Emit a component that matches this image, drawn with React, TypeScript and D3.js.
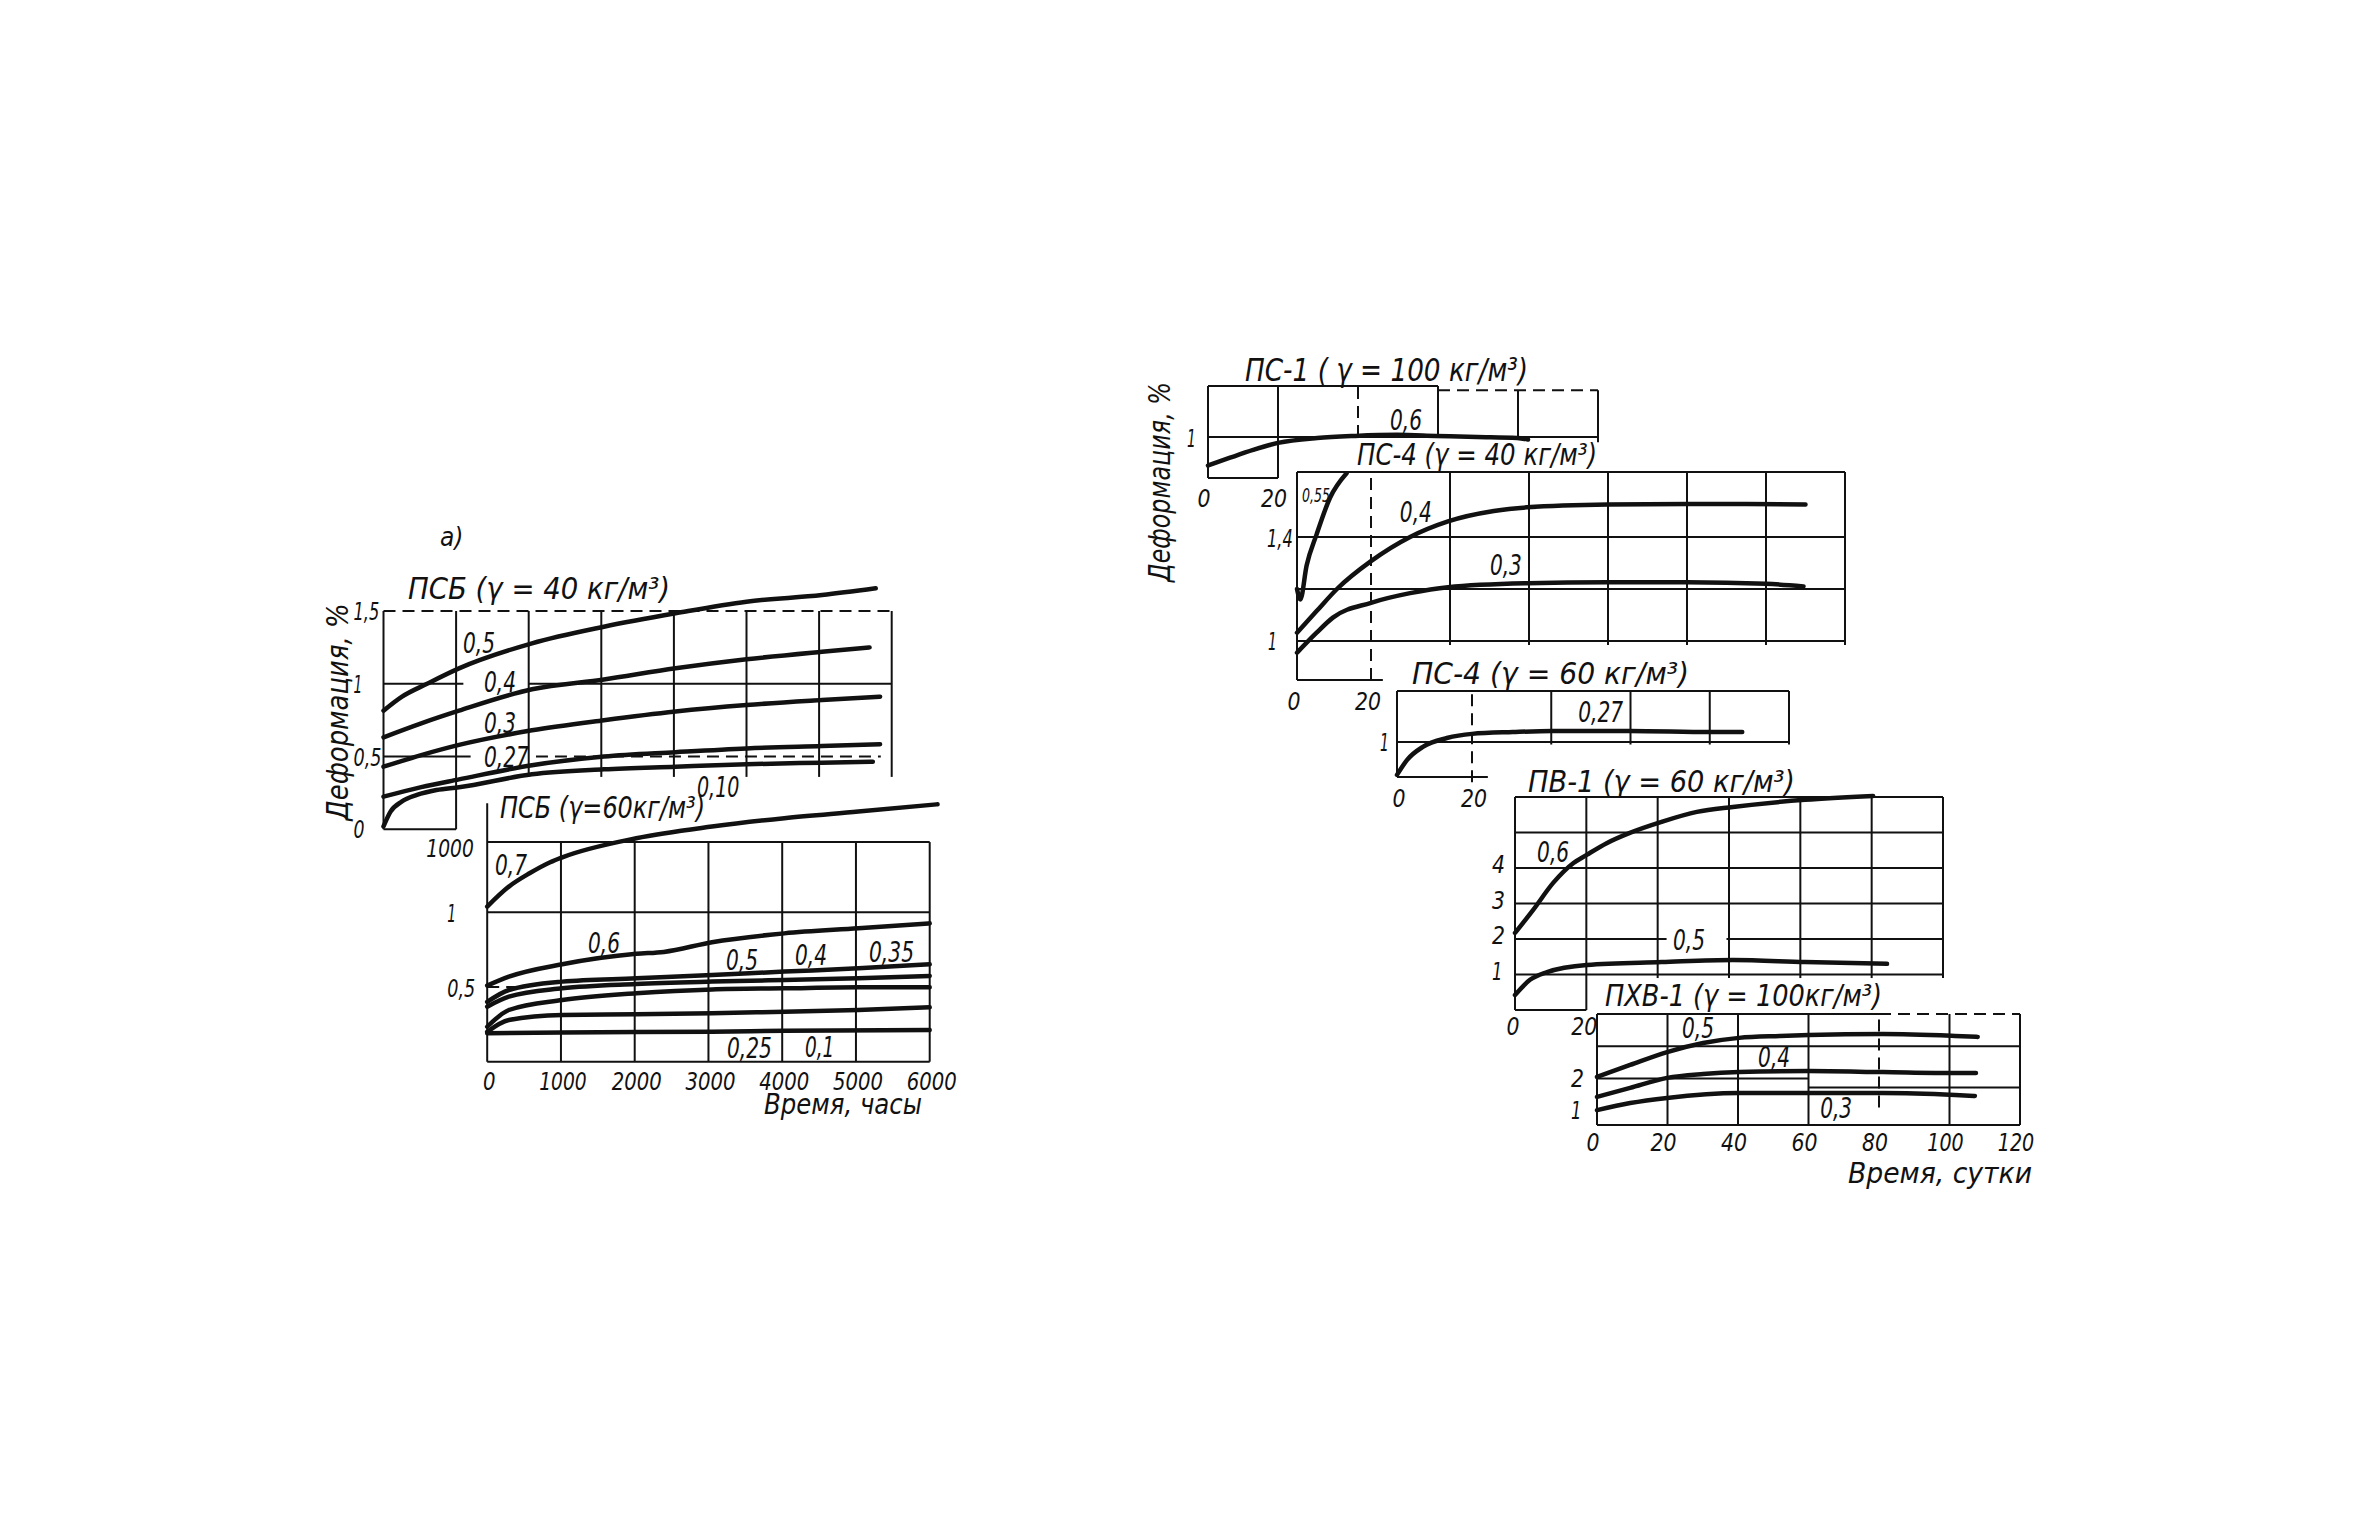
import React from "react";
import * as d3 from "d3";

type Pt = [number, number];

// ================= DATA =================
// Panel а) upper: ПСБ (γ = 40 кг/м³), x = hours, y = deformation %
const psb40Labels = ["0,5", "0,4", "0,3", "0,27", "0,10"];
const psb40_050: Pt[] = [[0, 0.815], [250, 0.91], [600, 1.0], [1040, 1.106], [2045, 1.278], [3036, 1.392], [4022, 1.484], [5000, 1.564], [6040, 1.61], [6780, 1.656]];
const psb40_040: Pt[] = [[0, 0.632], [520, 0.728], [1040, 0.815], [2045, 0.962], [3036, 1.03], [4022, 1.106], [5000, 1.168], [6040, 1.22], [6695, 1.25]];
const psb40_030: Pt[] = [[0, 0.43], [520, 0.51], [1040, 0.58], [2045, 0.68], [3036, 0.75], [4022, 0.81], [5000, 0.854], [6040, 0.888], [6840, 0.911]];
const psb40_027: Pt[] = [[0, 0.224], [520, 0.29], [1040, 0.343], [2045, 0.44], [3036, 0.5], [4022, 0.53], [5000, 0.556], [6040, 0.572], [6840, 0.584]];
const psb40_010: Pt[] = [[0, 0.02], [95, 0.12], [250, 0.19], [460, 0.236], [730, 0.27], [1040, 0.289], [2045, 0.378], [3036, 0.412], [4022, 0.43], [5000, 0.447], [6040, 0.458], [6740, 0.465]];
const psb40YTicks = [0, 0.5, 1, 1.5];
const psb40YTickText = ["0", "0,5", "1", "1,5"];
const psb40XTicks = [1000];

// Panel а) lower: ПСБ (γ = 60 кг/м³)
const psb60Labels = ["0,7", "0,6", "0,5", "0,4", "0,35", "0,25", "0,1"];
const psb60_070: Pt[] = [[0, 1.038], [294, 1.172], [574, 1.261], [854, 1.335], [1018, 1.368], [2021, 1.496], [3048, 1.574], [4029, 1.63], [5033, 1.674], [6106, 1.723]];
const psb60_060: Pt[] = [[0, 0.509], [294, 0.569], [1018, 0.652], [2021, 0.722], [2395, 0.735], [3048, 0.8], [4029, 0.859], [5033, 0.893], [6000, 0.926]];
const psb60_050: Pt[] = [[0, 0.4], [294, 0.48], [1018, 0.536], [2021, 0.558], [3048, 0.58], [4029, 0.603], [5033, 0.625], [6000, 0.652]];
const psb60_040: Pt[] = [[0, 0.368], [294, 0.435], [1018, 0.491], [2021, 0.52], [3048, 0.536], [4029, 0.547], [5033, 0.558], [6000, 0.574]];
const psb60_035: Pt[] = [[0, 0.234], [294, 0.346], [1018, 0.413], [2021, 0.458], [3048, 0.484], [4029, 0.491], [5033, 0.498], [6000, 0.498]];
const psb60_025: Pt[] = [[0, 0.2], [294, 0.279], [1018, 0.3125], [2021, 0.317], [3048, 0.324], [4029, 0.335], [5033, 0.346], [6000, 0.364]];
const psb60_010: Pt[] = [[0, 0.19], [1018, 0.196], [3048, 0.2], [4029, 0.207], [6000, 0.212]];
const psb60XTicks = [0, 1000, 2000, 3000, 4000, 5000, 6000];
const psb60YTicks = [0.5, 1];
const psb60YTickText = ["0,5", "1"];

// Right side: x = days
const ps1_060: Pt[] = [[0, 0.89], [6.3, 0.92], [12.9, 0.95], [20, 0.977], [29.8, 0.996], [39.3, 1.004], [49.8, 1.008], [59.5, 1.004], [69.8, 1.0], [79.8, 0.996], [82.5, 0.99]];
const ps4a_055: Pt[] = [[0, 1.2], [0.9, 1.16], [2.6, 1.29], [5.3, 1.41], [8.9, 1.55], [13.4, 1.645]];
const ps4a_040: Pt[] = [[0, 1.032], [5.3, 1.115], [10.8, 1.2], [20, 1.307], [29.9, 1.4], [39.5, 1.46], [51.1, 1.5], [59.5, 1.514], [80, 1.525], [100, 1.527], [115, 1.527], [130, 1.525]];
const ps4a_030: Pt[] = [[0, 0.955], [5.3, 1.032], [9.7, 1.09], [20, 1.147], [29.9, 1.184], [39.5, 1.207], [59.5, 1.222], [80, 1.226], [100, 1.226], [120, 1.22], [129.5, 1.21]];
const ps4b_027: Pt[] = [[0, 0.873], [2.7, 0.931], [6.9, 0.981], [13.3, 1.015], [20, 1.031], [30.3, 1.038], [40.2, 1.042], [59.9, 1.042], [80.1, 1.038], [88.2, 1.038]];
const pv1_060: Pt[] = [[0, 2.17], [5.1, 2.82], [10.7, 3.58], [16.4, 4.14], [20.1, 4.37], [25.7, 4.7], [32.2, 4.99], [41.1, 5.3], [51, 5.58], [61.1, 5.72], [81.3, 5.92], [100.4, 6.03]];
const pv1_050: Pt[] = [[0, 0.42], [4.2, 0.85], [9, 1.07], [20.1, 1.27], [41.1, 1.35], [61.1, 1.41], [81.3, 1.35], [104.3, 1.3]];
const phv_050: Pt[] = [[0, 2.05], [9.4, 2.42], [19.9, 2.82], [30.1, 3.1], [40.3, 3.26], [51.9, 3.32], [60.1, 3.35], [81.1, 3.38], [101.6, 3.32], [108, 3.29]];
const phv_040: Pt[] = [[0, 1.43], [9.4, 1.71], [19.9, 2.02], [30.1, 2.14], [40.3, 2.2], [60.1, 2.23], [81.1, 2.2], [101.6, 2.17], [107.5, 2.17]];
const phv_030: Pt[] = [[0, 1.02], [9.4, 1.24], [19.9, 1.4], [40.3, 1.55], [60.1, 1.55], [81.1, 1.55], [101.6, 1.49], [107.2, 1.46]];
const phvXTicks = [0, 20, 40, 60, 80, 100, 120];
const pv1YTicks = [1, 2, 3, 4];
const phvYTicks = [1, 2];

// ================= LAYOUT =================
const FONT = "'Liberation Sans Narrow','DejaVu Sans Condensed','Liberation Sans','DejaVu Sans',sans-serif";
const INK = "#111";

const ax1 = d3.scaleLinear().domain([0, 7000]).range([383.5, 891.7]);
const ay1 = d3.scaleLinear().domain([0, 1.5]).range([829.3, 611]);
const ax2 = d3.scaleLinear().domain([0, 6000]).range([487.2, 929.7]);
const ay2 = d3.scaleLinear().domain([0, 1.5]).range([1061.7, 837.6]);
const bx1 = d3.scaleLinear().domain([0, 20, 100]).range([1208, 1278, 1598]);
const by1 = d3.scaleLinear().domain([0.842, 1.196]).range([478, 386]);
const bx2 = d3.scaleLinear().domain([0, 20, 140]).range([1297, 1371, 1845]);
const by2 = d3.scaleLinear().domain([0.85, 1.65]).range([680, 472]);
const bx3 = d3.scaleLinear().domain([0, 20, 100]).range([1397, 1472, 1789]);
const by3 = d3.scaleLinear().domain([0.865, 1.196]).range([777, 691]);
const bx4 = d3.scaleLinear().domain([0, 120]).range([1515, 1943]);
const by4 = d3.scaleLinear().domain([0, 6]).range([1010, 797]);
const bx5 = d3.scaleLinear().domain([0, 120]).range([1597, 2020]);
const by5 = d3.scaleLinear().domain([0.56, 4]).range([1125, 1014]);

type S = d3.ScaleLinear<number, number>;

function Curve({ data, sx, sy, w = 4.5 }: { data: Pt[]; sx: S; sy: S; w?: number }) {
  const g = d3.line<Pt>().x(d => sx(d[0])).y(d => sy(d[1])).curve(d3.curveMonotoneX);
  return <path d={g(data) || ""} fill="none" stroke={INK} strokeWidth={w} strokeLinecap="round" strokeLinejoin="round" />;
}

type Seg = [number, number, number, boolean?];
function Grid({ sx, sy, v, h, w = 2 }: { sx: S; sy: S; v: Seg[]; h: Seg[]; w?: number }) {
  return (
    <g stroke={INK} strokeWidth={w} fill="none">
      {v.map((s, i) => (
        <line key={"v" + i} x1={sx(s[0])} x2={sx(s[0])} y1={sy(s[1])} y2={sy(s[2])} strokeDasharray={s[3] ? "12 7" : undefined} />
      ))}
      {h.map((s, i) => (
        <line key={"h" + i} y1={sy(s[0])} y2={sy(s[0])} x1={sx(s[1])} x2={sx(s[2])} strokeDasharray={s[3] ? "12 7" : undefined} />
      ))}
    </g>
  );
}

function numW(t: string, digit = 12) {
  let w = 0;
  for (const c of t) w += c === "," ? 6 : c === "1" ? digit * 0.8 : digit;
  return w;
}

function T({ x, y, s = 25, a = "start", len, rot, num, children }: { x: number; y: number; s?: number; a?: string; len?: number; rot?: boolean; num?: number; children: string }) {
  const L = len ?? (num ? numW(children, num) : undefined);
  return (
    <text
      x={x}
      y={y}
      fontSize={s}
      fontStyle="italic"
      fontFamily={FONT}
      fill={INK}
      textAnchor={a as any}
      textLength={L}
      lengthAdjust={L ? "spacingAndGlyphs" : undefined}
      transform={rot ? `rotate(-90, ${x}, ${y})` : undefined}
    >
      {children}
    </text>
  );
}

export default function App() {
  const W = 2363;
  const H = 1535;

  const a1Curves = [psb40_050, psb40_040, psb40_030, psb40_027, psb40_010];
  const a1LabelPos: Pt[] = [[1095, 1.212], [1384, 0.944], [1384, 0.662], [1384, 0.428], [4318, 0.222]];
  const a2Curves = [psb60_070, psb60_060, psb60_050, psb60_040, psb60_035, psb60_025, psb60_010];
  const a2LabelPos: Pt[] = [[106, 1.25], [1367, 0.728], [3238, 0.614], [4174, 0.647], [5177, 0.667], [3251, 0.025], [4309, 0.031]];

  const hours = d3.range(0, 8000, 1000);
  const days20 = d3.range(0, 160, 20);

  return (
    <svg width={W} height={H} style={{ position: "absolute", left: 0, top: 0, background: "#fff" }}>
      <rect x={0} y={0} width={W} height={H} fill="#fff" />

      {/* ===== Panel а) upper ===== */}
      <Grid
        sx={ax1}
        sy={ay1}
        v={[
          [0, 0, 1.5],
          [1000, 0, 1.5],
          ...hours.filter(x => x >= 2000).map(x => [x, 0.36, 1.5] as Seg),
        ]}
        h={[
          [1.5, 0, 7000, true],
          [1.0, 0, 1100],
          [1.0, 1990, 7000],
          [0.5, 0, 1200],
          [0.5, 2100, 6850, true],
          [0, 0, 1000],
        ]}
      />
      {a1Curves.map((c, i) => <Curve key={i} data={c} sx={ax1} sy={ay1} w={4.5} />)}
      {psb40Labels.map((t, i) => (
        <T key={t} x={ax1(a1LabelPos[i][0])} y={ay1(a1LabelPos[i][1])} s={29} num={13}>{t}</T>
      ))}
      {psb40YTicks.map((v, i) => (
        <T key={v} x={ax1(0) - 30} y={ay1(v) + 9} num={11}>{psb40YTickText[i]}</T>
      ))}
      {psb40XTicks.map(v => (
        <T key={v} x={ax1(v) - 6} y={ay1(0) + 28} a="middle" s={24} num={12.5}>{String(v)}</T>
      ))}
      <T x={408} y={599} s={30} len={262}>ПСБ (γ = 40 кг/м³)</T>
      <T x={440} y={546} s={26}>а)</T>
      <T x={348} y={712} s={30} a="middle" len={217} rot>Деформация, %</T>

      {/* ===== Panel а) lower ===== */}
      <Grid
        sx={ax2}
        sy={ay2}
        v={[
          [0, 0, 1.73],
          ...psb60XTicks.filter(x => x > 0).map(x => [x, 0, 1.47] as Seg),
        ]}
        h={[
          [1.47, 0, 6000],
          [1.0, 0, 6000],
          [0.5, 0, 450, true],
          [0, 0, 6000],
        ]}
      />
      {a2Curves.map((c, i) => <Curve key={i} data={c} sx={ax2} sy={ay2} w={4.5} />)}
      {psb60Labels.map((t, i) => (
        <T key={t} x={ax2(a2LabelPos[i][0])} y={ay2(a2LabelPos[i][1])} s={29} num={13}>{t}</T>
      ))}
      {psb60XTicks.map(v => (
        <T key={v} x={ax2(v) + 2} y={ay2(0) + 28} a="middle" s={24} num={12.5}>{String(v)}</T>
      ))}
      {psb60YTicks.map((v, i) => (
        <T key={v} x={ax2(0) - 40} y={ay2(v) + 10} num={11}>{psb60YTickText[i]}</T>
      ))}
      <T x={500} y={818} s={30} len={205}>ПСБ (γ=60кг/м³)</T>
      <T x={764} y={1114} s={29} len={158}>Время, часы</T>

      {/* ===== ПС-1 (γ = 100) ===== */}
      <Grid
        sx={bx1}
        sy={by1}
        v={[
          [0, 0.842, 1.196],
          [20, 0.842, 1.196],
          [40, 1.0, 1.196, true],
          [60, 1.0, 1.196],
          [80, 1.0, 1.18],
          [100, 0.98, 1.18],
        ]}
        h={[
          [1.196, 0, 60],
          [1.18, 60, 100, true],
          [1.0, 0, 100],
          [0.842, 0, 20],
        ]}
      />
      <Curve data={ps1_060} sx={bx1} sy={by1} w={4.5} />
      <T x={bx1(48)} y={by1(1.027)} s={29} num={13}>0,6</T>
      <T x={bx1(0) - 21} y={by1(1) + 10} num={11}>1</T>
      {[0, 20].map(v => (
        <T key={v} x={bx1(v) - 4} y={by1(0.842) + 29} a="middle" num={13}>{String(v)}</T>
      ))}
      <T x={1245} y={381} s={32} len={283}>ПС-1 ( γ = 100 кг/м³)</T>
      <T x={1170} y={482} s={30} a="middle" len={200} rot>Деформация, %</T>

      {/* ===== ПС-4 (γ = 40) ===== */}
      <Grid
        sx={bx2}
        sy={by2}
        v={[
          [0, 0.85, 1.65],
          [20, 0.85, 1.65, true],
          ...days20.filter(x => x >= 40).map(x => [x, 0.985, 1.65] as Seg),
        ]}
        h={[
          [1.65, 0, 140],
          [1.4, 0, 140],
          [1.2, 0, 140],
          [1.0, 0, 140],
          [0.85, 0, 23],
        ]}
      />
      <Curve data={ps4a_055} sx={bx2} sy={by2} w={4.5} />
      <Curve data={ps4a_040} sx={bx2} sy={by2} w={4.5} />
      <Curve data={ps4a_030} sx={bx2} sy={by2} w={4.5} />
      <T x={bx2(1.35)} y={by2(1.535)} s={20} len={28}>0,55</T>
      <T x={bx2(27.3)} y={by2(1.458)} s={29} num={13}>0,4</T>
      <T x={bx2(50.1)} y={by2(1.254)} s={29} num={13}>0,3</T>
      <T x={bx2(0) - 30} y={by2(1.4) + 10} num={11}>1,4</T>
      <T x={bx2(0) - 29} y={by2(1) + 9} num={11}>1</T>
      {[0, 20].map(v => (
        <T key={v} x={bx2(v) - 3} y={by2(0.85) + 30} a="middle" num={13}>{String(v)}</T>
      ))}
      <T x={1357} y={465} s={30} len={240}>ПС-4 (γ = 40 кг/м³)</T>

      {/* ===== ПС-4 (γ = 60) ===== */}
      <Grid
        sx={bx3}
        sy={by3}
        v={[
          [0, 0.865, 1.196],
          [20, 0.845, 1.196, true],
          ...[40, 60, 80, 100].map(x => [x, 0.99, 1.196] as Seg),
        ]}
        h={[
          [1.196, 0, 100],
          [1.0, 0, 100],
          [0.865, 0, 24],
        ]}
      />
      <Curve data={ps4b_027} sx={bx3} sy={by3} w={4.5} />
      <T x={bx3(46.8)} y={by3(1.077)} s={29} num={13}>0,27</T>
      <T x={bx3(0) - 17} y={by3(1) + 9} num={11}>1</T>
      {[0, 20].map(v => (
        <T key={v} x={bx3(v) + 2} y={by3(0.865) + 30} a="middle" num={13}>{String(v)}</T>
      ))}
      <T x={1412} y={684} s={30} len={277}>ПС-4 (γ = 60 кг/м³)</T>

      {/* ===== ПВ-1 (γ = 60) ===== */}
      <Grid
        sx={bx4}
        sy={by4}
        v={[
          [0, 0, 6],
          [20, 0, 6],
          ...[40, 60, 80, 100, 120].map(x => [x, 0.9, 6] as Seg),
        ]}
        h={[
          [6, 0, 120],
          [5, 0, 120],
          [4, 0, 120],
          [3, 0, 120],
          [2, 0, 42.5],
          [2, 59.3, 120],
          [1, 0, 120],
          [0, 0, 20],
        ]}
      />
      <Curve data={pv1_060} sx={bx4} sy={by4} w={4.5} />
      <Curve data={pv1_050} sx={bx4} sy={by4} w={4.5} />
      <T x={bx4(6.2)} y={by4(4.17)} s={29} num={13}>0,6</T>
      <T x={bx4(44.3)} y={by4(1.69)} s={29} num={13}>0,5</T>
      {pv1YTicks.map(v => (
        <T key={v} x={bx4(0) - 23} y={by4(v) + 5} num={13}>{String(v)}</T>
      ))}
      {[0, 20].map(v => (
        <T key={v} x={bx4(v) - 2} y={by4(0) + 25} a="middle" num={13}>{String(v)}</T>
      ))}
      <T x={1528} y={792} s={30} len={267}>ПВ-1 (γ = 60 кг/м³)</T>

      {/* ===== ПХВ-1 (γ = 100) ===== */}
      <Grid
        sx={bx5}
        sy={by5}
        v={[
          ...[0, 20, 40, 60, 100, 120].map(x => [x, 0.56, 4] as Seg),
          [80, 1.1, 4, true],
        ]}
        h={[
          [4, 0, 80],
          [4, 80, 120, true],
          [3, 0, 120],
          [2, 0, 60],
          [1.72, 60, 120],
          [0.56, 0, 120],
        ]}
      />
      <Curve data={phv_050} sx={bx5} sy={by5} w={4.5} />
      <Curve data={phv_040} sx={bx5} sy={by5} w={4.5} />
      <Curve data={phv_030} sx={bx5} sy={by5} w={4.5} />
      <T x={bx5(24.1)} y={by5(3.256)} s={29} num={13}>0,5</T>
      <T x={bx5(45.7)} y={by5(2.357)} s={29} num={13}>0,4</T>
      <T x={bx5(63.3)} y={by5(0.777)} s={29} num={13}>0,3</T>
      {phvYTicks.map(v => (
        <T key={v} x={bx5(0) - 26} y={by5(v) + 8} num={13}>{String(v)}</T>
      ))}
      {phvXTicks.map(v => (
        <T key={v} x={bx5(v) - 4} y={by5(0.56) + 26} a="middle" s={24} num={13}>{String(v)}</T>
      ))}
      <T x={1848} y={1183} s={29} len={184}>Время, сутки</T>
      <T x={1605} y={1006} s={30} len={277}>ПХВ-1 (γ = 100кг/м³)</T>
    </svg>
  );
}
